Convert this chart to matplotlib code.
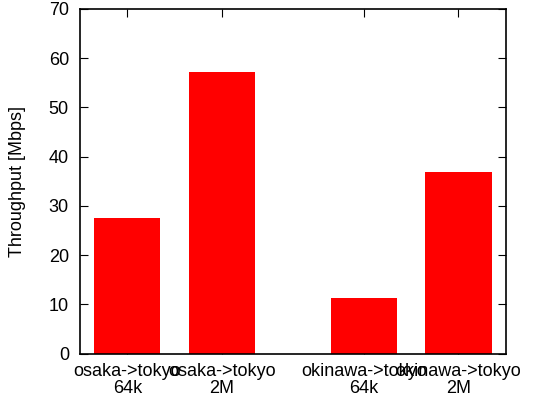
import matplotlib
matplotlib.use("Agg")
import matplotlib.pyplot as plt

# throughput per route and window size
routes = ["osaka->tokyo", "osaka->tokyo", "okinawa->tokyo", "okinawa->tokyo"]
windows = ["64k", "2M", "64k", "2M"]
throughput = [27.6, 57.2, 11.3, 36.8]
positions = [0, 1, 2.5, 3.5]

plt.rcParams['font.family'] = ['Liberation Sans', 'DejaVu Sans']
plt.rcParams['font.size'] = 13

fig = plt.figure(figsize=(5.48, 4.03), dpi=100)
ax = fig.add_axes([0.146, 0.1223, 0.7768, 0.8554])

ax.bar(positions, throughput, width=0.7, color='#ff0000', edgecolor='none', zorder=2)
ax.set_axisbelow(True)

ax.set_xlim(-0.5, 4.0)
ax.set_ylim(0, 70)
ax.set_yticks(range(0, 71, 10))
labels = [r + "\n" + w for r, w in zip(routes, windows)]
ax.set_xticks(positions)
ax.set_xticklabels(labels, linespacing=1.0)
ax.set_ylabel("Throughput [Mbps]", labelpad=16)

ax.tick_params(direction='in', length=6, width=0.8, color='black',
               top=True, right=True, labelsize=13)
ax.tick_params(axis='x', pad=7)
ax.tick_params(axis='y', pad=8)
for s in ax.spines.values():
    s.set_linewidth(1.2)

fig.savefig("out.png", dpi=100)
